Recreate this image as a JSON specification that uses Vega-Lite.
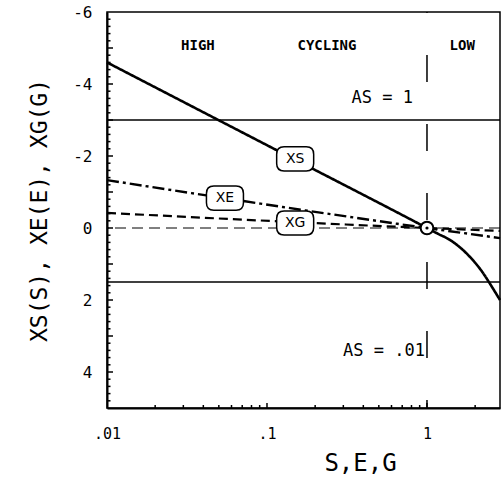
{
  "$schema": "https://vega.github.io/schema/vega-lite/v6.json",
  "width": 393,
  "height": 396,
  "autosize": {"type": "none"},
  "padding": {"left": 107, "top": 12, "right": 1, "bottom": 69},
  "background": "white",
  "config": {"view": {"stroke": "black", "strokeWidth": 1.5}, "font": "DejaVu Sans Mono"},
  "resolve": {"axis": {"x": "independent", "y": "independent"}},
  "datasets": {
    "curves": [
      {"series": "XS", "s": 0.01, "v": -4.6},
      {"series": "XS", "s": 0.1, "v": -2.3},
      {"series": "XS", "s": 1, "v": 0},
      {"series": "XS", "s": 1.17, "v": 0.16},
      {"series": "XS", "s": 1.39, "v": 0.33},
      {"series": "XS", "s": 1.78, "v": 0.72},
      {"series": "XS", "s": 2.24, "v": 1.25},
      {"series": "XS", "s": 2.55, "v": 1.64},
      {"series": "XS", "s": 2.86, "v": 2.0},
      {"series": "XE", "s": 0.01, "v": -1.33},
      {"series": "XE", "s": 1, "v": 0},
      {"series": "XE", "s": 2.86, "v": 0.28},
      {"series": "XG", "s": 0.01, "v": -0.42},
      {"series": "XG", "s": 1, "v": 0},
      {"series": "XG", "s": 2.86, "v": 0.08}
    ],
    "hlines": [{"v": -3}, {"v": 1.5}],
    "zero": [{"v": 0}],
    "vline": [{"s": 1}],
    "center": [{"s": 1, "v": 0}],
    "yMajor": [{"v": -5}, {"v": -4}, {"v": -3}, {"v": -2}, {"v": -1}, {"v": 0}, {"v": 1}, {"v": 2}, {"v": 3}, {"v": 4}],
    "yMinor": [{"v": -5.8}, {"v": -5.6}, {"v": -5.4}, {"v": -5.2}, {"v": -4.8}, {"v": -4.6}, {"v": -4.4}, {"v": -4.2}, {"v": -3.8}, {"v": -3.6}, {"v": -3.4}, {"v": -3.2}, {"v": -2.8}, {"v": -2.6}, {"v": -2.4}, {"v": -2.2}, {"v": -1.8}, {"v": -1.6}, {"v": -1.4}, {"v": -1.2}, {"v": -0.8}, {"v": -0.6}, {"v": -0.4}, {"v": -0.2}, {"v": 0.2}, {"v": 0.4}, {"v": 0.6}, {"v": 0.8}, {"v": 1.2}, {"v": 1.4}, {"v": 1.6}, {"v": 1.8}, {"v": 2.2}, {"v": 2.4}, {"v": 2.6}, {"v": 2.8}, {"v": 3.2}, {"v": 3.4}, {"v": 3.6}, {"v": 3.8}, {"v": 4.2}, {"v": 4.4}, {"v": 4.6}, {"v": 4.8}],
    "xMajor": [{"s": 0.1}, {"s": 1}],
    "xMinor": [{"s": 0.02}, {"s": 0.03}, {"s": 0.04}, {"s": 0.05}, {"s": 0.06}, {"s": 0.07}, {"s": 0.08}, {"s": 0.09}, {"s": 0.2}, {"s": 0.3}, {"s": 0.4}, {"s": 0.5}, {"s": 0.6}, {"s": 0.7}, {"s": 0.8}, {"s": 0.9}, {"s": 2}],
    "boxes": [
      {"t": "XS", "s": 0.150, "v": -1.92},
      {"t": "XE", "s": 0.0546, "v": -0.83},
      {"t": "XG", "s": 0.150, "v": -0.14}
    ],
    "regions": [
      {"t": "HIGH", "s": 0.037, "v": -5.06},
      {"t": "CYCLING", "s": 0.237, "v": -5.06},
      {"t": "LOW", "s": 1.66, "v": -5.06}
    ],
    "as": [
      {"t": "AS = 1", "s": 0.818, "v": -3.61},
      {"t": "AS = .01", "s": 0.972, "v": 3.42}
    ]
  },
  "layer": [
    {
      "data": {"name": "hlines"},
      "mark": {"type": "rule", "color": "black", "strokeWidth": 1.3},
      "encoding": {
        "y": {"field": "v", "type": "quantitative", "scale": {"domain": [-6, 5], "reverse": true, "nice": false, "zero": false},
          "axis": {
            "orient": "left",
            "values": [-6, -4, -2, 0, 2, 4],
            "labelExpr": "toString(datum.value)",
            "labelOverlap": false,
            "labelFont": "DejaVu Sans Mono",
            "labelFontSize": 16,
            "labelColor": "black",
            "labelPadding": 15,
            "ticks": false,
            "domainColor": "black",
            "domainWidth": 2,
            "grid": false,
            "title": "XS(S), XE(E), XG(G)",
            "titleFont": "DejaVu Sans Mono",
            "titleFontSize": 23,
            "titleFontWeight": "normal",
            "titleColor": "black",
            "titleAngle": 270,
            "titleAlign": "center",
            "titleBaseline": "middle",
            "titleX": -68,
            "titleY": 198
          }
        }
      }
    },
    {
      "data": {"name": "zero"},
      "mark": {"type": "rule", "color": "black", "strokeWidth": 1, "strokeDash": [11, 6]},
      "encoding": {"y": {"field": "v", "type": "quantitative", "axis": null}}
    },
    {
      "data": {"name": "vline"},
      "mark": {"type": "rule", "color": "black", "strokeWidth": 1.5, "strokeDash": [27, 42], "strokeDashOffset": 26},
      "encoding": {
        "x": {"field": "s", "type": "quantitative", "scale": {"type": "log", "domain": [0.01, 2.86], "nice": false},
          "axis": {
            "orient": "bottom",
            "values": [0.01, 0.1, 1],
            "labelExpr": "datum.value == 0.01 ? '.01' : datum.value == 0.1 ? '.1' : '1'",
            "labelOverlap": false,
            "labelFlush": false,
            "labelFont": "DejaVu Sans Mono",
            "labelFontSize": 15,
            "labelColor": "black",
            "labelPadding": 18,
            "ticks": false,
            "domainColor": "black",
            "domainWidth": 2,
            "grid": false,
            "title": "S,E,G",
            "titleFont": "DejaVu Sans Mono",
            "titleFontSize": 24,
            "titleFontWeight": "normal",
            "titleColor": "black",
            "titleAlign": "center",
            "titleBaseline": "middle",
            "titleX": 253,
            "titleY": 55
          }
        }
      }
    },
    {
      "data": {"name": "yMajor"},
      "mark": {"type": "rule", "color": "black", "strokeWidth": 1.5, "x2Offset": 6},
      "encoding": {
        "x": {"datum": 0.01, "type": "quantitative", "axis": null},
        "x2": {"datum": 0.01},
        "y": {"field": "v", "type": "quantitative", "axis": null}
      }
    },
    {
      "data": {"name": "yMinor"},
      "mark": {"type": "rule", "color": "black", "strokeWidth": 1.5, "x2Offset": 3.5},
      "encoding": {
        "x": {"datum": 0.01, "type": "quantitative", "axis": null},
        "x2": {"datum": 0.01},
        "y": {"field": "v", "type": "quantitative", "axis": null}
      }
    },
    {
      "data": {"name": "xMajor"},
      "mark": {"type": "rule", "color": "black", "strokeWidth": 1.5, "y2Offset": -5},
      "encoding": {
        "x": {"field": "s", "type": "quantitative", "axis": null},
        "y": {"datum": 5, "type": "quantitative", "axis": null},
        "y2": {"datum": 5}
      }
    },
    {
      "data": {"name": "xMinor"},
      "mark": {"type": "rule", "color": "black", "strokeWidth": 1.5, "y2Offset": -3},
      "encoding": {
        "x": {"field": "s", "type": "quantitative", "axis": null},
        "y": {"datum": 5, "type": "quantitative", "axis": null},
        "y2": {"datum": 5}
      }
    },
    {
      "data": {"name": "curves"},
      "mark": {"type": "line", "interpolate": "monotone", "color": "black"},
      "encoding": {
        "x": {"field": "s", "type": "quantitative", "axis": null},
        "y": {"field": "v", "type": "quantitative", "axis": null},
        "detail": {"field": "series"},
        "strokeDash": {"field": "series", "type": "nominal", "scale": {"domain": ["XS", "XE", "XG"], "range": [[1, 0], [12, 4, 3, 4], [9, 5]]}, "legend": null},
        "strokeWidth": {"field": "series", "type": "nominal", "scale": {"domain": ["XS", "XE", "XG"], "range": [2.6, 2.2, 2.6]}, "legend": null}
      }
    },
    {
      "data": {"name": "center"},
      "mark": {"type": "point", "shape": "circle", "size": 160, "filled": true, "fill": "white", "stroke": "black", "strokeWidth": 2, "opacity": 1},
      "encoding": {"x": {"field": "s", "type": "quantitative", "axis": null}, "y": {"field": "v", "type": "quantitative", "axis": null}}
    },
    {
      "data": {"name": "center"},
      "mark": {"type": "point", "shape": "circle", "size": 10, "filled": true, "color": "black", "opacity": 1},
      "encoding": {"x": {"field": "s", "type": "quantitative", "axis": null}, "y": {"field": "v", "type": "quantitative", "axis": null}}
    },
    {
      "data": {"name": "boxes"},
      "mark": {"type": "point", "shape": "M-0.6,-0.65 L0.6,-0.65 Q1,-0.65 1,-0.25 L1,0.25 Q1,0.65 0.6,0.65 L-0.6,0.65 Q-1,0.65 -1,0.25 L-1,-0.25 Q-1,-0.65 -0.6,-0.65 Z", "size": 1369, "filled": true, "fill": "white", "stroke": "black", "strokeWidth": 1.5, "opacity": 1},
      "encoding": {"x": {"field": "s", "type": "quantitative", "axis": null}, "y": {"field": "v", "type": "quantitative", "axis": null}}
    },
    {
      "data": {"name": "boxes"},
      "mark": {"type": "text", "font": "DejaVu Sans", "fontSize": 14, "color": "black", "align": "center", "baseline": "middle"},
      "encoding": {"x": {"field": "s", "type": "quantitative", "axis": null}, "y": {"field": "v", "type": "quantitative", "axis": null}, "text": {"field": "t"}}
    },
    {
      "data": {"name": "regions"},
      "mark": {"type": "text", "font": "DejaVu Sans Mono", "fontSize": 14, "fontWeight": "bold", "color": "black", "align": "center", "baseline": "middle"},
      "encoding": {"x": {"field": "s", "type": "quantitative", "axis": null}, "y": {"field": "v", "type": "quantitative", "axis": null}, "text": {"field": "t"}}
    },
    {
      "data": {"name": "as"},
      "mark": {"type": "text", "font": "DejaVu Sans Mono", "fontSize": 17, "color": "black", "align": "right", "baseline": "middle"},
      "encoding": {"x": {"field": "s", "type": "quantitative", "axis": null}, "y": {"field": "v", "type": "quantitative", "axis": null}, "text": {"field": "t"}}
    }
  ]
}
